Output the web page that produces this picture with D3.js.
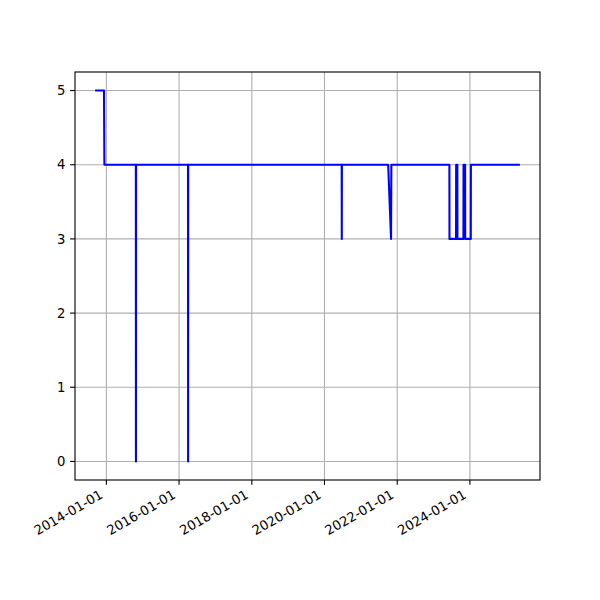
<!DOCTYPE html>
<html><head><meta charset="utf-8">
<script src="https://cdn.jsdelivr.net/npm/d3@7"></script>
<style>body{margin:0;background:#fff}svg{display:block}text{font-family:"DejaVu Sans",sans-serif;font-size:13.2px;fill:#000}</style>
</head><body>
<script>
const dates = ["2013-09-20","2013-12-08","2013-12-12","2014-10-24","2014-10-25","2014-10-26",
"2016-03-31","2016-04-01","2016-04-02","2020-06-22","2020-06-23","2020-06-24",
"2021-10-02","2021-10-31","2021-11-03","2023-06-09","2023-06-10","2023-08-15","2023-08-16",
"2023-08-28","2023-08-29","2023-10-28","2023-10-29","2023-11-14","2023-11-15","2024-01-10","2024-01-11","2025-05-07"];
const values = [5,5,4,4,0,4,4,0,4,4,3,4,4,3,4,4,3,3,4,4,3,3,4,4,3,3,4,4];
const xTickLabels = ["2014-01-01","2016-01-01","2018-01-01","2020-01-01","2022-01-01","2024-01-01"];
const yTicks = [0,1,2,3,4,5];

const W=600,H=600, L=75,R=540,T=72,B=480;
const tk=4.86, sw=1.11;
const parse = d3.timeParse("%Y-%m-%d");
const data = dates.map((d,i)=>({t:parse(d), v:values[i]}));
const [t0,t1] = d3.extent(data,d=>d.t);
const pad = (t1-t0)*0.05;
const x = d3.scaleTime().domain([new Date(+t0-pad), new Date(+t1+pad)]).range([L,R]);
const vmin=d3.min(values), vmax=d3.max(values), vp=(vmax-vmin)*0.05;
const y = d3.scaleLinear().domain([vmin-vp, vmax+vp]).range([B,T]);

const svg = d3.select("body").append("svg").attr("width",W).attr("height",H);
const xt = xTickLabels.map(parse);
// grid
svg.append("g").selectAll("line").data(xt).join("line")
 .attr("x1",d=>x(d)).attr("x2",d=>x(d)).attr("y1",T).attr("y2",B)
 .attr("stroke","#b0b0b0").attr("stroke-width",sw);
svg.append("g").selectAll("line").data(yTicks).join("line")
 .attr("x1",L).attr("x2",R).attr("y1",d=>y(d)).attr("y2",d=>y(d))
 .attr("stroke","#b0b0b0").attr("stroke-width",sw);
// line
const line = d3.line().x(d=>x(d.t)).y(d=>y(d.v));
svg.append("path").datum(data).attr("d",line).attr("fill","none")
 .attr("stroke","#0000ff").attr("stroke-width",2.08).attr("stroke-linejoin","round").attr("stroke-linecap","square");
// frame
svg.append("rect").attr("x",L).attr("y",T).attr("width",R-L).attr("height",B-T)
 .attr("fill","none").attr("stroke","#000").attr("stroke-width",sw);
// x ticks
const gx = svg.append("g");
gx.selectAll("line").data(xt).join("line").attr("x1",d=>x(d)).attr("x2",d=>x(d))
 .attr("y1",B).attr("y2",B+tk).attr("stroke","#000").attr("stroke-width",sw);
gx.selectAll("text").data(xt).join("text")
 .attr("transform",d=>`translate(${x(d)-2.5},${B+2*tk+7.5}) rotate(-30)`)
 .attr("text-anchor","end").text((d,i)=>xTickLabels[i]);
// y ticks
const gy = svg.append("g");
gy.selectAll("line").data(yTicks).join("line").attr("x1",L-tk).attr("x2",L)
 .attr("y1",d=>y(d)).attr("y2",d=>y(d)).attr("stroke","#000").attr("stroke-width",sw);
gy.selectAll("text").data(yTicks).join("text").attr("x",L-2*tk).attr("y",d=>y(d))
 .attr("dy","0.36em").attr("text-anchor","end").text(d=>d);
</script>
</body></html>
